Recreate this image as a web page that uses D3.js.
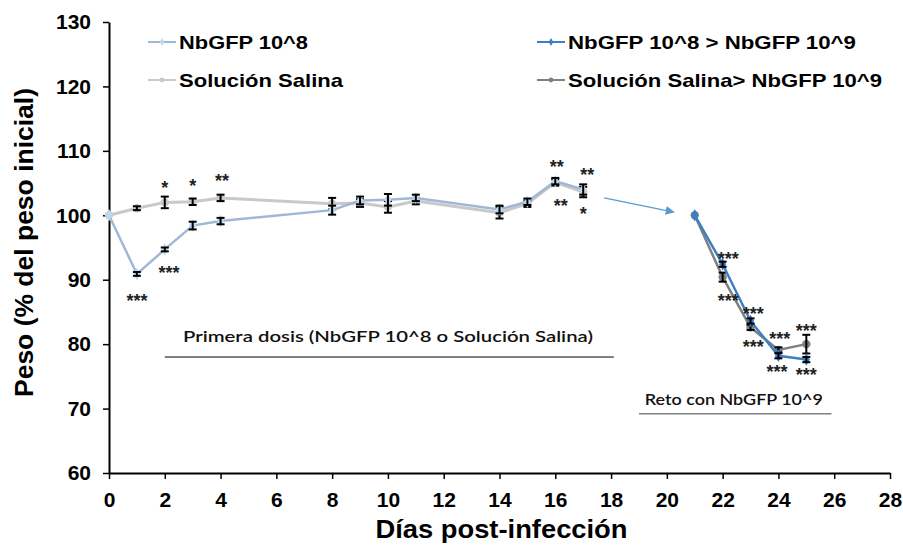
<!DOCTYPE html>
<html>
<head>
<meta charset="utf-8">
<script src="https://cdn.jsdelivr.net/npm/d3@7"></script>
<style>
  body { margin: 0; background: #fff; }
  text { font-family: Arial, "Liberation Sans", sans-serif; }
</style>
</head>
<body>
<div id="chart-area"></div>
<script>
const MARGIN = { LEFT: 109, RIGHT: 13, TOP: 22, BOTTOM: 73 }
const WIDTH = 903 - MARGIN.LEFT - MARGIN.RIGHT
const HEIGHT = 546 - MARGIN.TOP - MARGIN.BOTTOM

// Primera dosis
const days1 = [0, 1, 2, 3, 4, 8, 9, 10, 11, 14, 15, 16, 17]
const nbgfp8 = [100, 90.9, 94.7, 98.4, 99.1, 100.8, 102.3, 102.4, 102.7, 100.9, 102.1, 105.3, 104.0]
const nbgfp8Err = [0, 0.3, 0.3, 0.6, 0.5, 0.7, 0.6, 0.9, 0.5, 0.6, 0.5, 0.5, 0.8]
const salina = [100, 101.1, 102.0, 102.1, 102.7, 101.8, 101.9, 101.3, 102.2, 100.4, 101.8, 105.1, 103.6]
const salinaErr = [0, 0.3, 0.9, 0.5, 0.5, 0.9, 0.6, 0.9, 0.5, 0.9, 0.5, 0.5, 0.8]

// Reto con NbGFP 10^9
const days2 = [21, 22, 23, 24, 25]
const nbgfp9 = [100, 92.4, 83.6, 78.2, 77.6]
const nbgfp9Err = [0, 0.4, 0.4, 0.4, 0.4]
const salina9 = [100, 90.4, 82.6, 79.1, 80.0]
const salina9Err = [0, 0.7, 0.4, 0.4, 1.45]

// significance marks: [day, value, text]
const stars = [
  [1, 87.3, "***"], [2, 104.8, "*"], [2.15, 91.6, "***"], [3, 105.1, "*"], [4.05, 105.9, "**"],
  [16.05, 108.1, "**"], [16.2, 102.0, "**"], [17.15, 106.8, "**"], [17, 100.8, "*"],
  [22.2, 93.8, "***"], [22.2, 87.3, "***"], [23.1, 85.3, "***"], [23.1, 80.2, "***"],
  [24.05, 81.4, "***"], [23.95, 76.3, "***"], [25, 82.6, "***"], [25, 75.8, "***"]
]

const xTicks = d3.range(0, 29, 2)
const yTicks = d3.range(60, 131, 10)

const svg = d3.select("#chart-area").append("svg")
  .attr("width", 903)
  .attr("height", 546)

const g = svg.append("g")
  .attr("transform", `translate(${MARGIN.LEFT}, ${MARGIN.TOP})`)

const x = d3.scaleLinear().domain([0, 28]).range([0, WIDTH])
const y = d3.scaleLinear().domain([60, 130]).range([HEIGHT, 0])

// axes
const xAxis = g.append("g")
  .attr("transform", `translate(0, ${HEIGHT})`)
  .call(d3.axisBottom(x).tickValues(xTicks).tickSize(6).tickSizeOuter(0).tickPadding(13))
const yAxis = g.append("g")
  .call(d3.axisLeft(y).tickValues(yTicks).tickSize(6).tickSizeOuter(0).tickPadding(12))

;[xAxis, yAxis].forEach(a => {
  a.select(".domain").attr("stroke", "#000").attr("stroke-width", 2)
  a.selectAll(".tick line").attr("stroke", "#000").attr("stroke-width", 1.5)
  a.selectAll(".tick text")
    .attr("font-size", "21px")
    .attr("font-weight", "bold")
    .attr("fill", "#000")
    .style("font-family", "Arial, 'Liberation Sans', sans-serif")
})

// axis titles
g.append("text")
  .attr("x", WIDTH / 2 + 2)
  .attr("y", HEIGHT + 65)
  .attr("text-anchor", "middle")
  .attr("font-size", "25px")
  .attr("font-weight", "bold")
  .attr("textLength", 252)
  .attr("lengthAdjust", "spacingAndGlyphs")
  .text("Días post-infección")

g.append("text")
  .attr("transform", "rotate(-90)")
  .attr("x", -(HEIGHT / 2) + 5)
  .attr("y", -76)
  .attr("text-anchor", "middle")
  .attr("font-size", "25px")
  .attr("font-weight", "bold")
  .attr("textLength", 309)
  .attr("lengthAdjust", "spacingAndGlyphs")
  .text("Peso (% del peso inicial)")

const series = [
  { days: days1, vals: salina, err: salinaErr, color: "#c9c9c9", width: 3, marker: "circle", mcolor: "#c9c9c9" },
  { days: days1, vals: nbgfp8, err: nbgfp8Err, color: "#a0b8d8", width: 2.5, marker: "diamond", mcolor: "#bdd7ee" },
  { days: days2, vals: salina9, err: salina9Err, color: "#808080", width: 2.5, marker: "circle", mcolor: "#808080" },
  { days: days2, vals: nbgfp9, err: nbgfp9Err, color: "#3b7fc4", width: 2.5, marker: "diamond", mcolor: "#3b7fc4" }
]

const line = d3.line().x(d => x(d[0])).y(d => y(d[1]))

series.forEach(s => {
  const pts = s.days.map((d, i) => [d, s.vals[i], s.err[i]])
  g.append("path")
    .datum(pts)
    .attr("fill", "none")
    .attr("stroke", s.color)
    .attr("stroke-width", s.width)
    .attr("d", line)

  const sym = s.marker === "circle" ? d3.symbolCircle : d3.symbolDiamond
  g.selectAll(null).data(pts).enter().append("path")
    .attr("transform", d => `translate(${x(d[0])},${y(d[1])})`)
    .attr("d", d3.symbol().type(sym).size(s.marker === "circle" ? 55 : 45))
    .attr("fill", s.mcolor)

  // error bars
  const eb = g.selectAll(null).data(pts.filter(d => d[2] > 0)).enter().append("g")
    .attr("stroke", "#000").attr("stroke-width", 2)
  eb.append("line")
    .attr("x1", d => x(d[0])).attr("x2", d => x(d[0]))
    .attr("y1", d => y(d[1] - d[2])).attr("y2", d => y(d[1] + d[2]))
  eb.append("line")
    .attr("x1", d => x(d[0]) - 4).attr("x2", d => x(d[0]) + 4)
    .attr("y1", d => y(d[1] + d[2])).attr("y2", d => y(d[1] + d[2]))
  eb.append("line")
    .attr("x1", d => x(d[0]) - 4).attr("x2", d => x(d[0]) + 4)
    .attr("y1", d => y(d[1] - d[2])).attr("y2", d => y(d[1] - d[2]))
})

// stars
g.selectAll(".star").data(stars).enter().append("text")
  .attr("class", "star")
  .attr("x", d => x(d[0]))
  .attr("y", d => y(d[1]) + 10)
  .attr("text-anchor", "middle")
  .attr("font-size", "18px")
  .attr("font-weight", "bold")
  .attr("fill", "#222")
  .text(d => d[2])

// arrow from first phase to challenge
svg.append("defs").append("marker")
  .attr("id", "arr")
  .attr("viewBox", "0 0 10 10")
  .attr("refX", 9).attr("refY", 5)
  .attr("markerWidth", 7).attr("markerHeight", 7)
  .attr("orient", "auto")
  .append("path").attr("d", "M0,0 L10,5 L0,10 Z").attr("fill", "#5b9bd5")

g.append("line")
  .attr("x1", x(17.75)).attr("y1", y(102.7))
  .attr("x2", x(20.25)).attr("y2", y(100.5))
  .attr("stroke", "#5b9bd5").attr("stroke-width", 1.3)
  .attr("marker-end", "url(#arr)")

// phase annotations
g.append("text")
  .attr("x", x(10.0)).attr("y", y(80.3))
  .attr("text-anchor", "middle")
  .attr("font-size", "16px")
  .attr("font-weight", 600)
  .attr("fill", "#111")
  .attr("textLength", 410)
  .attr("lengthAdjust", "spacingAndGlyphs")
  .style("font-family", "Lato, 'Open Sans', sans-serif")
  .text("Primera dosis (NbGFP 10^8 o Solución Salina)")
g.append("line")
  .attr("x1", x(2)).attr("x2", x(18.1))
  .attr("y1", y(78)).attr("y2", y(78))
  .attr("stroke", "#000").attr("stroke-width", 1)

g.append("text")
  .attr("x", x(22.4)).attr("y", y(70.6))
  .attr("text-anchor", "middle")
  .attr("font-size", "15px")
  .attr("font-weight", 600)
  .attr("fill", "#111")
  .attr("textLength", 178)
  .attr("lengthAdjust", "spacingAndGlyphs")
  .style("font-family", "Lato, 'Open Sans', sans-serif")
  .text("Reto con NbGFP 10^9")
g.append("line")
  .attr("x1", x(19.0)).attr("x2", x(25.9))
  .attr("y1", y(69.2)).attr("y2", y(69.2))
  .attr("stroke", "#808080").attr("stroke-width", 1.5)

// legend
const legend = [
  { name: "NbGFP 10^8", s: series[1], lx: 148, ly: 42, w: 129 },
  { name: "Solución Salina", s: series[0], lx: 148, ly: 80, w: 164 },
  { name: "NbGFP 10^8 > NbGFP 10^9", s: series[3], lx: 537, ly: 42, w: 288 },
  { name: "Solución Salina> NbGFP 10^9", s: series[2], lx: 537, ly: 80, w: 314 }
]
const lg = svg.append("g")
legend.forEach(l => {
  lg.append("line")
    .attr("x1", l.lx).attr("x2", l.lx + 28)
    .attr("y1", l.ly).attr("y2", l.ly)
    .attr("stroke", l.s.color).attr("stroke-width", 2)
  lg.append("path")
    .attr("transform", `translate(${l.lx + 14},${l.ly})`)
    .attr("d", d3.symbol().type(l.s.marker === "circle" ? d3.symbolCircle : d3.symbolDiamond).size(18))
    .attr("fill", l.s.mcolor)
  lg.append("text")
    .attr("x", l.lx + 31).attr("y", l.ly + 7)
    .attr("font-size", "19px")
    .attr("font-weight", "bold")
    .attr("textLength", l.w)
    .attr("lengthAdjust", "spacingAndGlyphs")
    .text(l.name)
})
</script>
</body>
</html>
